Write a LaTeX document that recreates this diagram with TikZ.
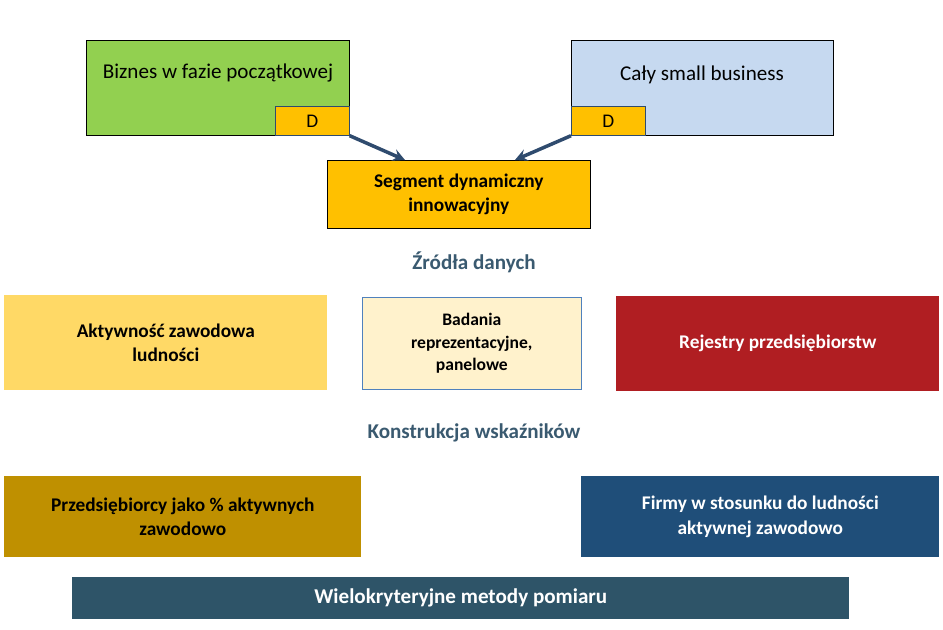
\documentclass[tikz,border=0pt]{standalone}
\usepackage{fontspec}
\setmainfont{Carlito}
\usetikzlibrary{positioning}
\definecolor{grn}{HTML}{92D050}
\definecolor{lblue}{HTML}{C6D9F0}
\definecolor{gold}{HTML}{FFC000}
\definecolor{navy}{HTML}{2F4B6E}
\definecolor{ttl}{HTML}{3A5A70}
\definecolor{sand}{HTML}{FFD966}
\definecolor{cream}{HTML}{FFF2CC}
\definecolor{edgeblue}{HTML}{4F81BD}
\definecolor{brick}{HTML}{B01E22}
\definecolor{ochre}{HTML}{BF9000}
\definecolor{deepblue}{HTML}{1F4E79}
\definecolor{slate}{HTML}{2E5468}
\begin{document}
\begin{tikzpicture}[x=0.02cm,y=-0.02cm]
    \tikzstyle{box} = [rectangle, anchor=north west, inner sep=2pt, align=center, font=\fontsize{11}{14}\selectfont\bfseries]
    \tikzstyle{dbox} = [rectangle, anchor=north west, fill=gold, draw=navy, minimum width=1.48cm, minimum height=0.58cm, inner sep=0pt, font=\fontsize{11}{13}\selectfont]
    \tikzstyle{title} = [font=\fontsize{12}{14}\selectfont\bfseries, text=ttl]
    \tikzstyle{arrow} = [line width=2pt, draw=navy, -stealth]
    \useasboundingbox (0,0) rectangle (943,629);

    % top row
    \node (start)[box, draw=black, fill=grn, minimum width=5.26cm, minimum height=1.9cm] at (86,40) {};
    \node at (218,73) [font=\fontsize{12}{14}\selectfont] {Biznes w fazie początkowej};
    \node (startd)[dbox] at (275,106) {D};
    \node (small)[box, draw=black, fill=lblue, minimum width=5.24cm, minimum height=1.9cm] at (571,40) {};
    \node at (702,75) [font=\fontsize{12}{14}\selectfont] {Cały small business};
    \node (smalld)[dbox] at (571,106) {D};
    \node (segment)[box, draw=black, fill=gold, minimum width=5.26cm, minimum height=1.36cm] at (327,160) {Segment dynamiczny\\innowacyjny};
    \draw [arrow] (startd.south east) -- ([xshift=1.56cm]segment.north west);
    \draw [arrow] (smalld.south west) -- ([xshift=3.76cm]segment.north west);

    % sources
    \node (sources)[title] at (474,262) {Źródła danych};
    \node (activity)[box, fill=sand, minimum width=6.46cm, minimum height=1.9cm] at (4,295) {Aktywność zawodowa\\ludności};
    \node (survey)[box, fill=cream, draw=edgeblue, minimum width=4.38cm, minimum height=1.84cm, font=\fontsize{10}{13}\selectfont\bfseries] at (362,297) {Badania\\reprezentacyjne,\\panelowe};
    \node (registry)[box, fill=brick, text=white, minimum width=6.46cm, minimum height=1.9cm] at (616,296) {Rejestry przedsiębiorstw};

    % indicators
    \node (indicators)[title] at (474,433) {Konstrukcja wskaźników};
    \node (share)[box, fill=ochre, minimum width=7.14cm, minimum height=1.62cm] at (4,476) {Przedsiębiorcy jako \% aktywnych\\zawodowo};
    \node (firms)[box, fill=deepblue, text=white, minimum width=7.16cm, minimum height=1.62cm] at (581,476) {Firmy w stosunku do ludności\\aktywnej zawodowo};
    \node (methods)[box, fill=slate, text=white, minimum width=15.54cm, minimum height=0.84cm, font=\fontsize{12}{14}\selectfont\bfseries] at (72,577) {Wielokryteryjne metody pomiaru};
\end{tikzpicture}
\end{document}
